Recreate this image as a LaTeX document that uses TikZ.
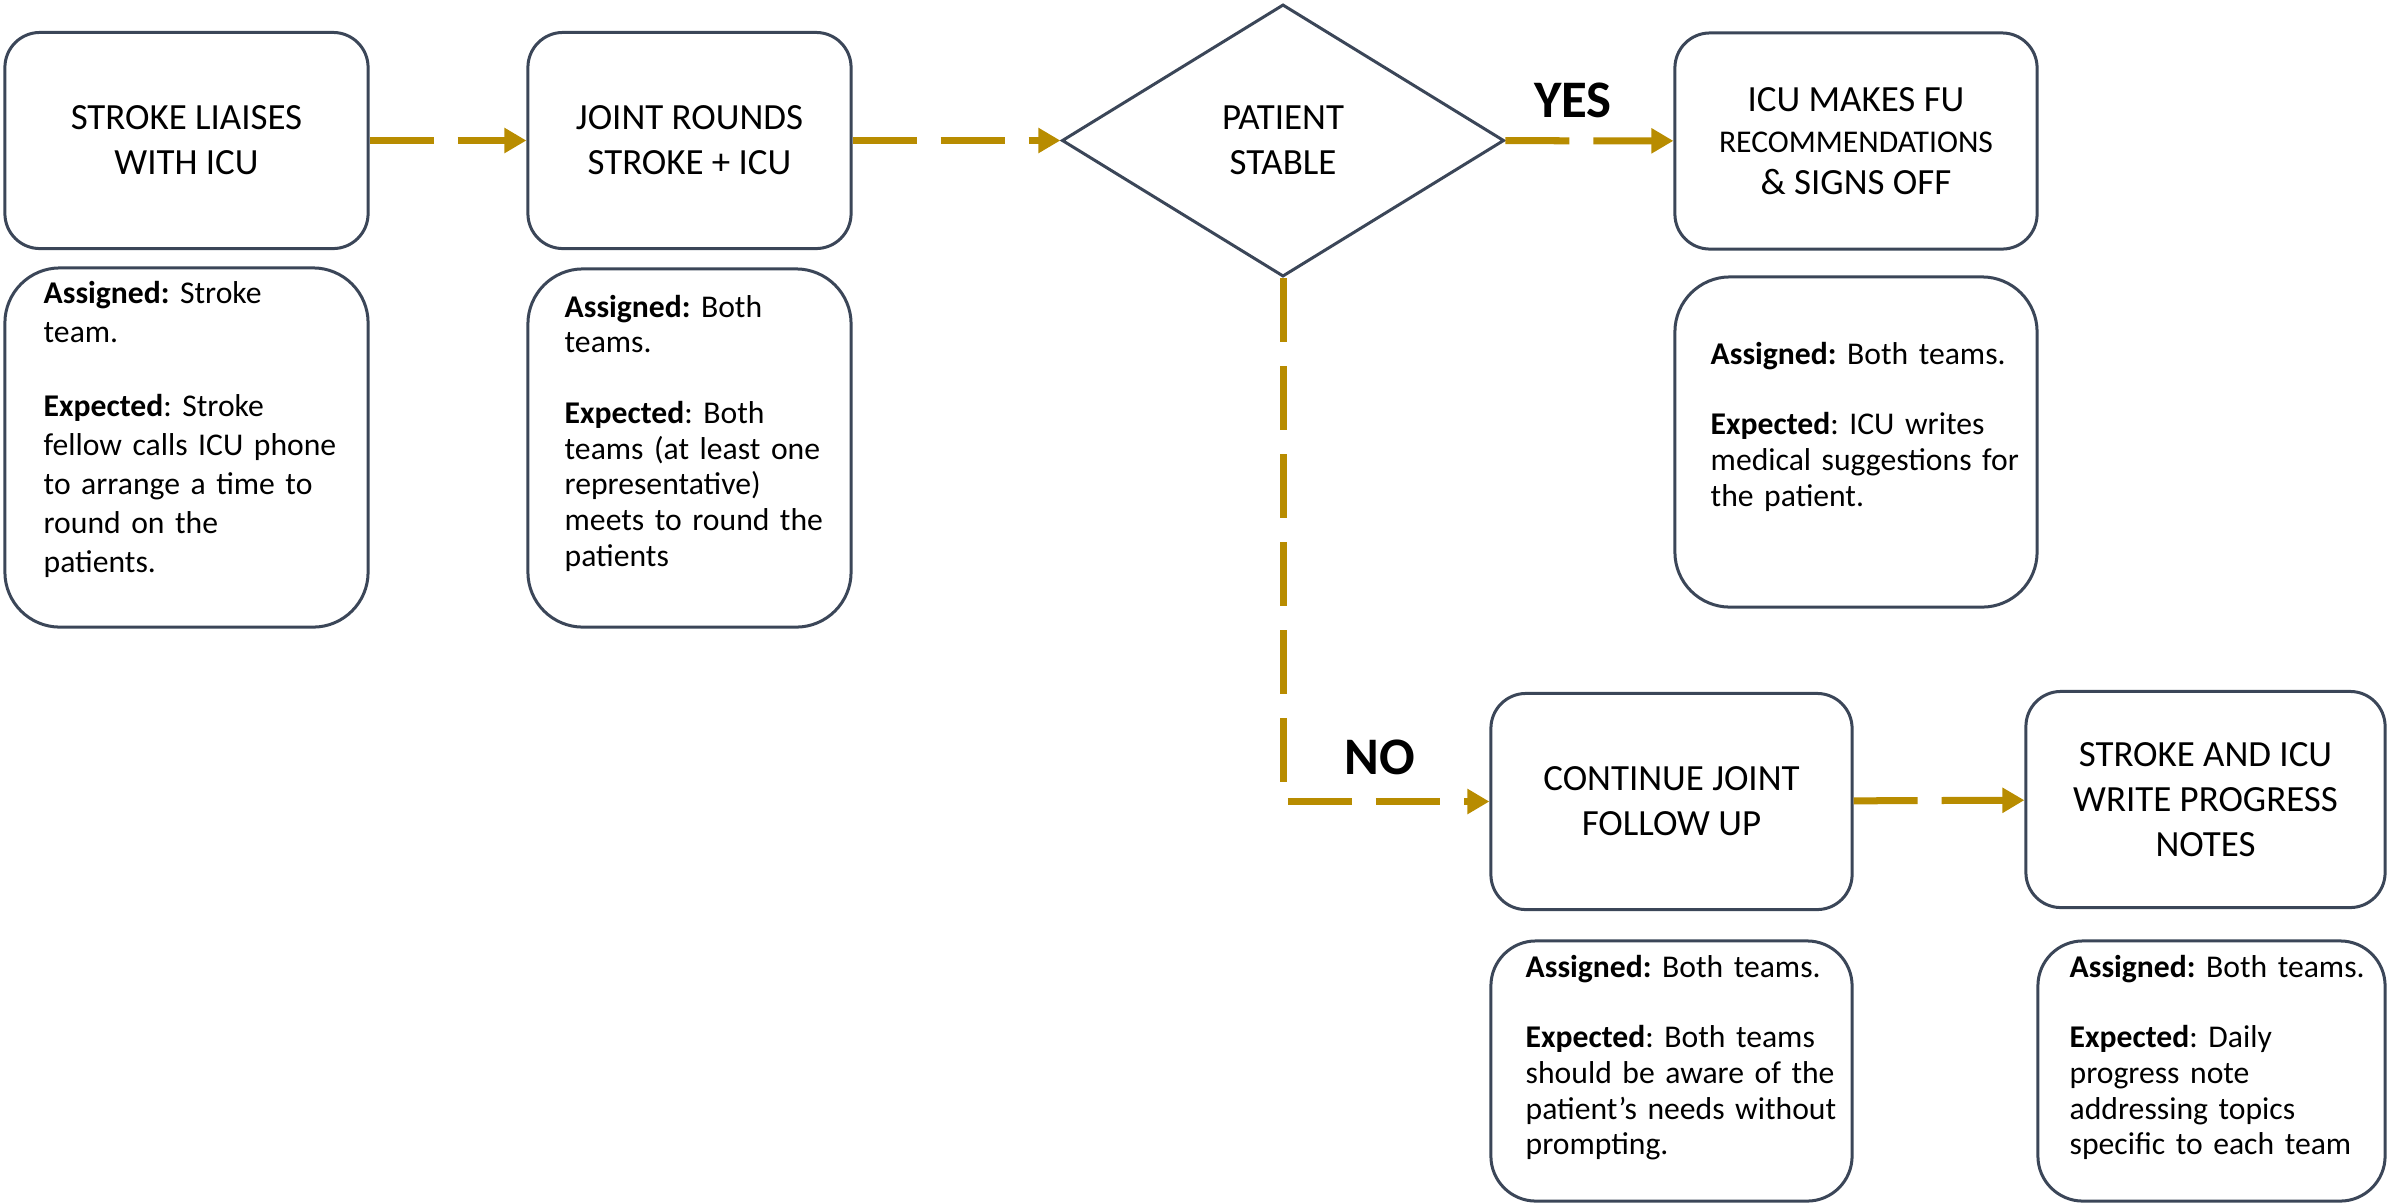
\documentclass[tikz,border=0pt]{standalone}
\usepackage{fontspec}
\setmainfont{Carlito}
\usetikzlibrary{arrows.meta,shapes.geometric}
\definecolor{flowgold}{RGB}{184,140,0}
\definecolor{boxline}{RGB}{59,70,88}
\frenchspacing
\begin{document}
\begin{tikzpicture}[x=0.01cm,y=-0.01cm,
	headbox/.style={draw=boxline,line width=0.03cm,rounded corners=0.35cm,minimum width=3.63cm,minimum height=2.16cm,inner sep=0pt,align=center,font=\fontsize{10.5}{12.8}\selectfont},
	infobox/.style={draw=boxline,line width=0.03cm,rounded corners=0.55cm,minimum width=3.63cm,inner sep=0pt},
	infotext/.style={anchor=base west,inner sep=0pt,text width=3.3cm,align=left,font=\fontsize{9}{10.2}\selectfont},
	decision/.style={diamond,draw=boxline,line width=0.03cm,minimum width=4.42cm,minimum height=2.72cm,inner sep=0pt,align=center,font=\fontsize{10.5}{12.8}\selectfont},
	flow/.style={draw=flowgold,line width=0.07cm,dash pattern=on 0.64cm off 0.24cm,-{Triangle[length=0.22cm,width=0.24cm]}},
	answer/.style={inner sep=0pt,font=\fontsize{15}{18}\selectfont\bfseries}]
	\useasboundingbox (0,0) rectangle (2387,1202);
	\node[headbox] (liaise) at (186.5,140.5) {STROKE LIAISES\\WITH ICU};
	\node[headbox,minimum width=3.23cm] (joint) at (689.5,140.5) {JOINT ROUNDS\\STROKE + ICU};
	\node[decision] (stable) at (1283,140.5) {PATIENT\\STABLE};
	\node[headbox,minimum width=3.62cm,font=\fontsize{10.5}{11.7}\selectfont] (signoff) at (1856,141) {ICU MAKES FU\\{\fontsize{9}{11.7}\selectfont RECOMMENDATIONS}\\\& SIGNS OFF};
	\node[headbox,minimum width=3.61cm] (cont) at (1671.5,801.5) {CONTINUE JOINT\\FOLLOW UP};
	\node[headbox,minimum width=3.59cm] (notes) at (2205.5,799.5) {STROKE AND ICU\\WRITE PROGRESS\\NOTES};
	\node[infobox,minimum height=3.59cm] (liaiseinfo) at (186.5,447.5) {};
	\node[infobox,minimum width=3.23cm,minimum height=3.58cm] (jointinfo) at (689.5,448) {};
	\node[infobox,minimum width=3.62cm,minimum height=3.3cm] (signoffinfo) at (1856,442) {};
	\node[infobox,minimum width=3.61cm,minimum height=2.6cm,rounded corners=0.45cm] (continfo) at (1671.5,1071) {};
	\node[infobox,minimum width=3.47cm,minimum height=2.6cm,rounded corners=0.45cm] (notesinfo) at (2211.5,1071) {};
	\node[infotext,font=\fontsize{9}{11.1}\selectfont] (liaisetxt) at (43,303) {\textbf{Assigned:} Stroke\\team.\\[10pt]\textbf{Expected}: Stroke\\fellow calls ICU phone\\to arrange a time to\\round on the\\patients.};
	\node[infotext] (jointtxt) at (564,317) {\textbf{Assigned:} Both\\teams.\\[9.8pt]\textbf{Expected}: Both\\teams (at least one\\representative)\\meets to round the\\patients};
	\node[infotext] (signofftxt) at (1710,364) {\textbf{Assigned:} Both teams.\\[9.8pt]\textbf{Expected}: ICU writes\\medical suggestions for\\the patient.};
	\node[infotext] (conttxt) at (1525,977) {\textbf{Assigned:} Both teams.\\[9.8pt]\textbf{Expected}: Both teams\\should be aware of the\\patient’s needs without\\prompting.};
	\node[infotext] (notestxt) at (2069,977) {\textbf{Assigned:} Both teams.\\[9.8pt]\textbf{Expected}: Daily\\progress note\\addressing topics\\specific to each team};
	\node[answer] (yes) at (1573,100) {YES};
	\node[answer] (no) at (1380,757) {NO};
	\draw[flow] (liaise) -- (joint);
	\draw[flow] (joint) -- (stable);
	\draw[flow] (stable) -- (signoff);
	\draw[flow] (stable.south) |- (cont.west);
	\draw[flow] (cont) -- (notes);
\end{tikzpicture}
\end{document}
